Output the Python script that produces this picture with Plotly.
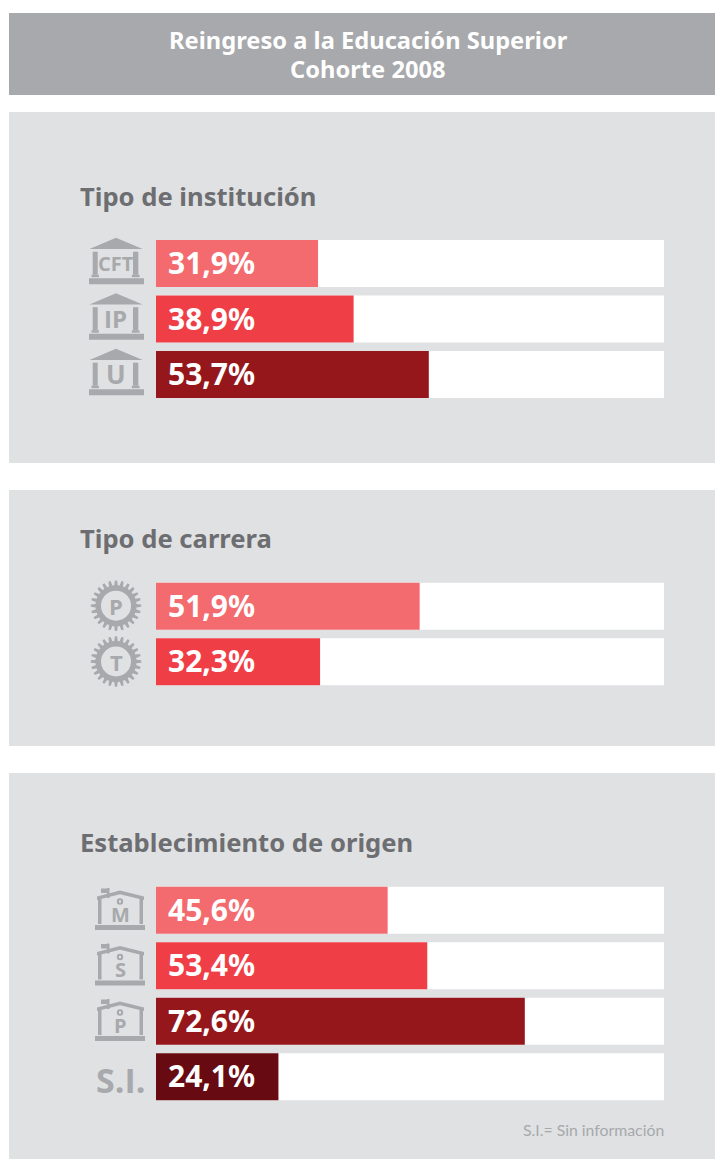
import math
import plotly.graph_objects as go

W, H = 715, 1159
title_lines = ["Reingreso a la Educación Superior", "Cohorte 2008"]
sec1_title = "Tipo de institución"
sec1_cats = ["CFT", "IP", "U"]
sec1_vals = [31.9, 38.9, 53.7]
sec2_title = "Tipo de carrera"
sec2_cats = ["P", "T"]
sec2_vals = [51.9, 32.3]
sec3_title = "Establecimiento de origen"
sec3_cats = ["M", "S", "P", "S.I."]
sec3_vals = [45.6, 53.4, 72.6, 24.1]
colors = ["#f36b6e", "#f03e47", "#95171c", "#670a12"]
footnote = "S.I.= Sin información"

FONT = "Noto Sans"
ICON_FONT = "Open Sans"
GREY = "#a7a9ac"
PANEL = "#e0e1e3"
HEAD = "#6d6e71"

def fx(x): return x / W
def fy(y): return 1 - y / H

def path(points, close=True):
    s = "M " + " L ".join(f"{fx(x):.5f},{fy(y):.5f}" for x, y in points)
    return s + (" Z" if close else "")

shapes, annotations = [], []

def rect(x0, y0, x1, y1, color, layer="below"):
    shapes.append(dict(type="rect", xref="paper", yref="paper", x0=fx(x0), x1=fx(x1),
                       y0=fy(y1), y1=fy(y0), fillcolor=color, line_width=0, layer=layer))

def poly(points, color):
    shapes.append(dict(type="path", xref="paper", yref="paper", path=path(points),
                       fillcolor=color, line_width=0, layer="above"))

def circle(cx, cy, r, color):
    shapes.append(dict(type="circle", xref="paper", yref="paper", x0=fx(cx - r), x1=fx(cx + r),
                       y0=fy(cy + r), y1=fy(cy - r), fillcolor=color, line_width=0, layer="above"))

def label(x, y, text, size, color, anchor="center", bold=True, family=FONT):
    annotations.append(dict(xref="paper", yref="paper", x=fx(x), y=fy(y), text=f"<b>{text}</b>" if bold else text,
                            showarrow=False, xanchor=anchor, yanchor="middle", align="center",
                            font=dict(family=family, size=size, color=color)))

# background panels
rect(9, 13, 715, 95, GREY)
rect(9, 112, 715, 463, PANEL)
rect(9, 490, 715, 746, PANEL)
rect(9, 773, 715, 1159, PANEL)

for i, line in enumerate(title_lines):
    label(368.5, 40 + i * 29.5, line, 23.7, "#ffffff")

label(77.5, 196.5, sec1_title, 25.6, HEAD, "left")
label(77.5, 538.5, sec2_title, 25.6, HEAD, "left")
label(77.5, 842.5, sec3_title, 25.6, HEAD, "left")
label(666, 1129.5, footnote, 15.8, "#a7a9ac", "right", bold=False, family="Lato")

def bank_icon(cy, text, size):
    t = cy - 25.8
    poly([(116, t), (142.7, t + 11.3), (89.5, t + 11.3)], GREY)
    for xl, xr in ((92.7, 97.7), (133, 138.3)):
        rect(xl, t + 14, xr, t + 37, GREY, "above")
        rect(xl - 1.2, t + 37, xr + 1.2, t + 39.5, GREY, "above")
    rect(89, t + 40.5, 144, t + 46.5, GREY, "above")
    label(115.5, cy - 0.5, text, size, GREY, family=ICON_FONT)

def gear_icon(cy, text):
    cx, n = 116, 24
    pts = []
    for i in range(n):
        a = 2 * math.pi * i / n
        for da, r in ((-0.085, 20.5), (-0.045, 25.2), (0.045, 25.2), (0.085, 20.5)):
            pts.append((cx + r * math.cos(a + da), cy + r * math.sin(a + da)))
    poly(pts, GREY)
    circle(cx, cy, 15, PANEL)
    label(cx, cy, text, 22, GREY, family=ICON_FONT)

def school_icon(cy, text):
    o = cy - 910
    rect(101, 888.5 + o, 108, 893 + o, GREY, "above")
    rect(107, 888 + o, 109.5, 898 + o, GREY, "above")
    poly([(97, 896.5 + o), (120, 890.5 + o), (144, 896.5 + o), (144, 900 + o),
          (120, 894.2 + o), (97, 900 + o)], GREY)
    rect(98, 898 + o, 101.5, 924 + o, GREY, "above")
    rect(139.5, 898 + o, 143, 924 + o, GREY, "above")
    rect(95, 925 + o, 145, 930 + o, GREY, "above")
    circle(120, 901.5 + o, 3.2, GREY)
    circle(120, 901.5 + o, 1.2, PANEL)
    label(120, 914 + o, text, 20, GREY, family=ICON_FONT)

sections = [
    (sec1_cats, sec1_vals, 263.5),
    (sec2_cats, sec2_vals, 606.3),
    (sec3_cats, sec3_vals, 910.2),
]
STEP, BAR = 55.5, 47
fig = go.Figure()
layout_axes = {}
for k, (cats, vals, first) in enumerate(sections, start=1):
    top = first - STEP / 2
    bottom = top + STEP * len(cats)
    xa, ya = ("x", "y") if k == 1 else (f"x{k}", f"y{k}")
    fig.add_trace(go.Bar(x=[100] * len(cats), y=cats, orientation="h", marker=dict(color="#ffffff", line_width=0),
                         width=BAR / STEP, xaxis=xa, yaxis=ya, hoverinfo="skip", showlegend=False))
    fig.add_trace(go.Bar(x=vals, y=cats, orientation="h", marker=dict(color=colors[:len(cats)], line_width=0),
                         width=BAR / STEP, xaxis=xa, yaxis=ya, showlegend=False,
                         text=[f"{v:.1f}%".replace(".", ",") for v in vals], textposition="none"))
    for c, v in zip(cats, vals):
        annotations.append(dict(xref=xa, yref=ya, x=0, y=c, xshift=10, yshift=1, text=f"<b>{v:.1f}%</b>".replace(".", ","),
                                showarrow=False, xanchor="left", yanchor="middle",
                                font=dict(family=FONT, size=30, color="#ffffff")))
    suffix = "" if k == 1 else str(k)
    layout_axes[f"xaxis{suffix}"] = dict(domain=[156 / W, 664 / W], range=[0, 100], visible=False, anchor=ya)
    layout_axes[f"yaxis{suffix}"] = dict(domain=[1 - bottom / H, 1 - top / H], range=[len(cats) - 0.5, -0.5],
                                         type="category", visible=False, anchor=xa)

bank_icon(263.5, "CFT", 20)
bank_icon(319, "IP", 24)
bank_icon(374.5, "U", 26)
gear_icon(605.7, "P")
gear_icon(661.5, "T")
school_icon(910, "M")
school_icon(965.5, "S")
school_icon(1021, "P")
label(120.5, 1080, "S.I.", 34, GREY, family=ICON_FONT)

fig.update_layout(width=W, height=H, autosize=False, margin=dict(l=0, r=0, t=0, b=0),
                  paper_bgcolor="#ffffff", plot_bgcolor="rgba(0,0,0,0)", barmode="overlay",
                  shapes=shapes, annotations=annotations, showlegend=False,
                  font=dict(family=FONT), **layout_axes)
fig.write_html("out.html", config=dict(displayModeBar=False),
               post_script="document.body.style.margin='0';document.documentElement.style.overflow='hidden';")
